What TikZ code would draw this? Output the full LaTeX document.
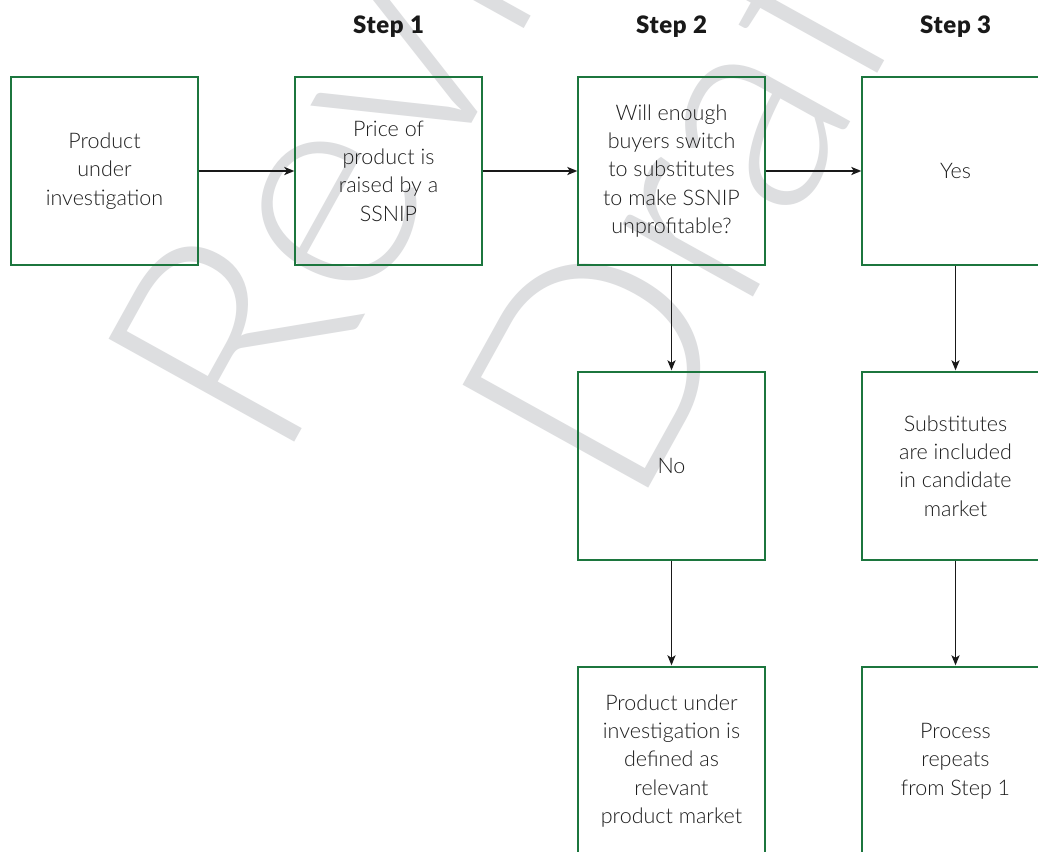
\documentclass[tikz,border=0pt]{standalone}
\usepackage{fontspec}
\setmainfont{Lato}
\newfontfamily\lightfont{Lato Light}
\newfontfamily\blackfont{Lato Black}[LetterSpace=3]
\usetikzlibrary{arrows.meta}
\definecolor{boxgreen}{RGB}{28,118,62}
\definecolor{txtgray}{RGB}{30,30,30}
\definecolor{wmgray}{RGB}{221,222,224}
\begin{document}
\begin{tikzpicture}[x=1pt,y=-1pt,
  box/.style={draw=boxgreen, line width=1.3pt, minimum width=187pt, minimum height=188pt,
    inner sep=0pt, align=center, text=txtgray, font=\lightfont\fontsize{21.5}{28.4}\selectfont},
  steplabel/.style={font=\blackfont\fontsize{24}{28}\selectfont, text=black!90},
  arr/.style={-{Stealth[length=10pt,width=8pt,inset=2.5pt]}, line width=1.8pt, black!90},
  wm/.style={text=wmgray, font=\lightfont\fontsize{300}{331}\selectfont, anchor=base, rotate=61, inner sep=0pt}
]
\useasboundingbox (0,0) rectangle (1038,851);
\clip (0,0) rectangle (1038,851);
\fill[white] (0,0) rectangle (1038,851);
% watermark
\node[wm] (wm1) at (505,63) {Review};
\node[wm] (wm2) at (795,223) {Draft};
% step labels
\node[steplabel] (s1) at (388.5,27) {Step 1};
\node[steplabel] (s2) at (671.5,27) {Step 2};
\node[steplabel] (s3) at (955.5,27) {Step 3};
% boxes
\node[box] (prod) at (104.5,171) {Product\\under\\investigation};
\node[box] (price) at (388.5,171) {Price of\\product is\\raised by a\\SSNIP};
\node[box] (will) at (671.5,171) {Will enough\\buyers switch\\to substitutes\\to make SSNIP\\unprofitable?};
\node[box] (yes) at (955.5,171) {Yes};
\node[box] (no) at (671.5,466) {No};
\node[box] (subs) at (955.5,466) {Substitutes\\are included\\in candidate\\market};
\node[box] (def) at (671.5,761) {Product under\\investigation is\\defined as\\relevant\\product market};
\node[box] (rep) at (955.5,761) {Process\\repeats\\from Step 1};
% arrows
\draw[arr] (prod.east) -- (price.west);
\draw[arr] (price.east) -- (will.west);
\draw[arr] (will.east) -- (yes.west);
\draw[arr, shorten >=1pt] (will.south) -- (no.north);
\draw[arr, shorten >=1pt] (yes.south) -- (subs.north);
\draw[arr, shorten >=1pt] (no.south) -- (def.north);
\draw[arr, shorten >=1pt] (subs.south) -- (rep.north);
\end{tikzpicture}
\end{document}
